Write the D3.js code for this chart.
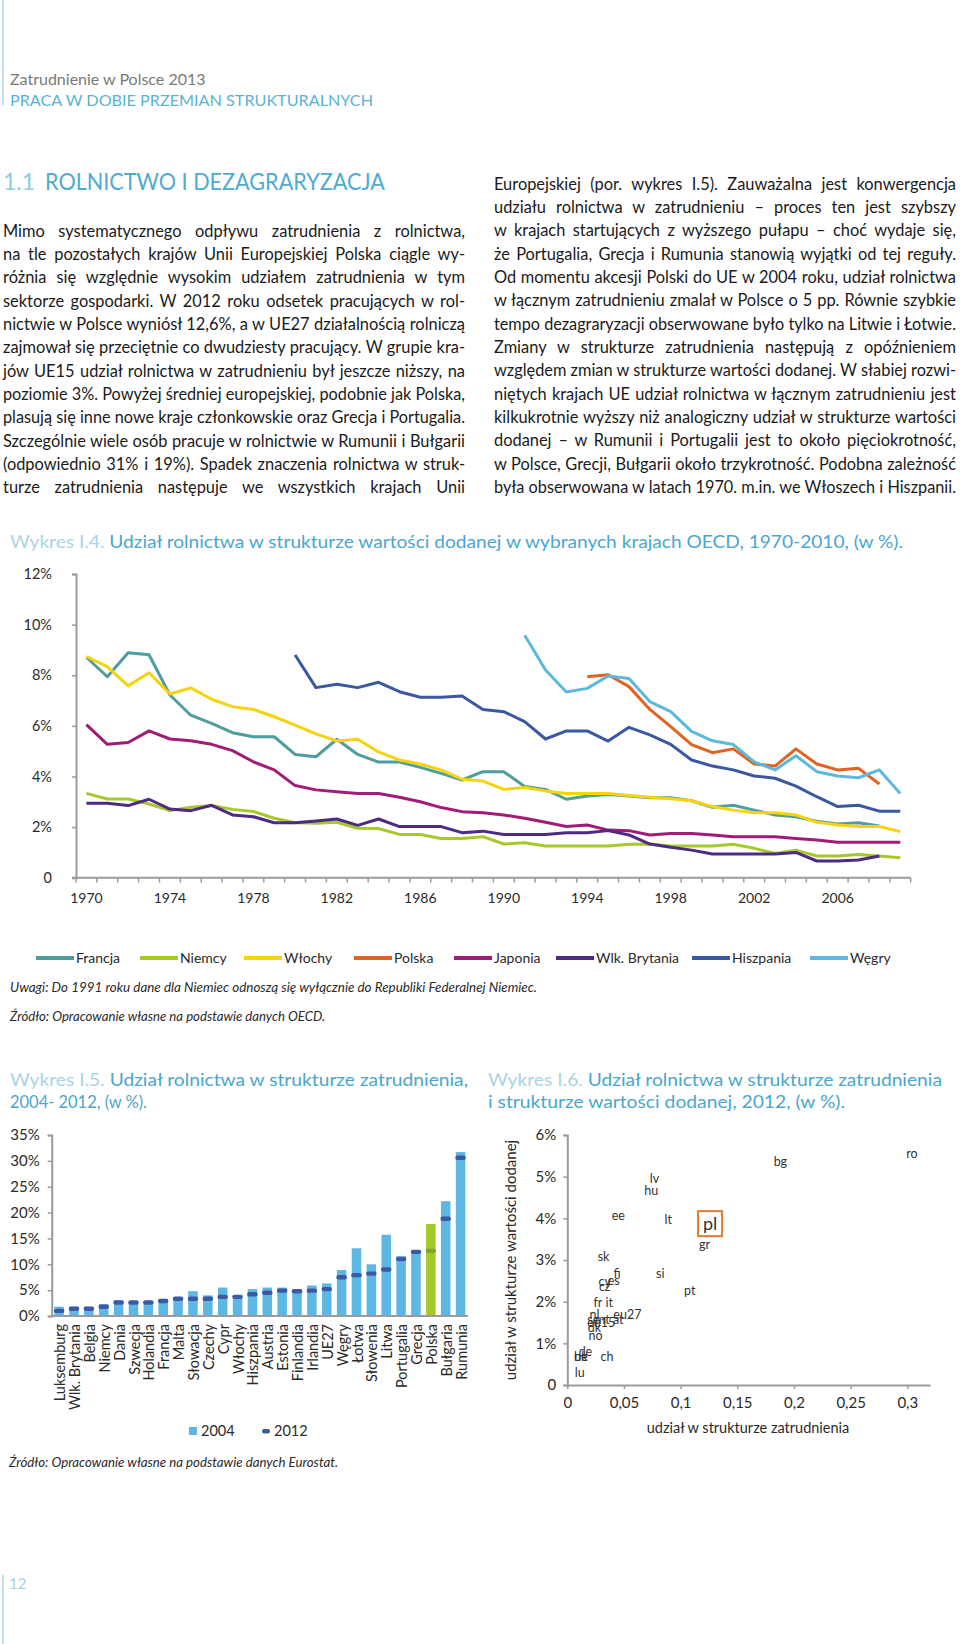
<!DOCTYPE html>
<html><head><meta charset="utf-8">
<script src="https://cdn.jsdelivr.net/npm/d3@7"></script>
<style>
body{margin:0;background:#fff}
svg{display:block}
text{font-family:Lato,'Open Sans',sans-serif}
</style>
</head><body>
<svg id="page" width="960" height="1644"></svg>
<script>
// ---------------- DATA ----------------
const years = [1970,1971,1972,1973,1974,1975,1976,1977,1978,1979,1980,1981,1982,1983,1984,1985,1986,1987,1988,1989,
               1990,1991,1992,1993,1994,1995,1996,1997,1998,1999,2000,2001,2002,2003,2004,2005,2006,2007,2008,2009];
const yearLabels = [1970,1974,1978,1982,1986,1990,1994,1998,2002,2006];
const lineTicks = [0,2,4,6,8,10,12];

const francja = [8.71,7.94,8.89,8.81,7.22,6.42,6.10,5.73,5.57,5.57,4.87,4.78,5.47,4.87,4.57,4.57,4.36,4.12,3.86,4.19,
                 4.19,3.60,3.49,3.10,3.23,3.29,3.23,3.16,3.16,3.04,2.78,2.86,2.67,2.48,2.41,2.23,2.12,2.17,2.04,null];
const niemcy = [3.33,3.11,3.11,2.91,2.65,2.78,2.85,2.70,2.62,2.35,2.17,2.15,2.19,1.95,1.94,1.71,1.71,1.55,1.55,1.62,
                1.33,1.38,1.25,1.25,1.25,1.25,1.32,1.33,1.25,1.25,1.25,1.32,1.16,0.96,1.09,0.86,0.86,0.92,0.86,0.79];
const wlochy = [8.74,8.34,7.58,8.10,7.26,7.50,7.05,6.76,6.65,6.36,6.03,5.68,5.40,5.47,4.97,4.65,4.49,4.26,3.89,3.82,
                3.49,3.56,3.43,3.33,3.33,3.33,3.25,3.18,3.12,3.04,2.81,2.67,2.57,2.57,2.48,2.19,2.08,2.02,2.02,1.82];
const polska = [null,null,null,null,null,null,null,null,null,null,null,null,null,null,null,null,null,null,null,null,
                null,null,null,null,7.94,8.02,7.55,6.65,5.97,5.26,4.94,5.09,4.49,4.41,5.09,4.49,4.26,4.32,3.70,null];
const japonia = [6.05,5.27,5.34,5.80,5.48,5.41,5.27,5.02,4.58,4.26,3.64,3.47,3.40,3.33,3.33,3.18,3.00,2.77,2.61,2.57,
                 2.48,2.35,2.19,2.02,2.08,1.88,1.86,1.69,1.75,1.75,1.69,1.62,1.62,1.62,1.55,1.49,1.40,1.40,1.40,1.40];
const wlkBrytania = [2.94,2.94,2.85,3.10,2.71,2.65,2.86,2.48,2.41,2.17,2.17,2.24,2.32,2.07,2.32,2.02,2.02,2.02,1.78,1.84,
                     1.71,1.71,1.71,1.78,1.78,1.86,1.69,1.33,1.20,1.09,0.94,0.94,0.94,0.94,1.00,0.66,0.66,0.70,0.86,null];
const hiszpania = [null,null,null,null,null,null,null,null,null,null,8.80,7.51,7.64,7.51,7.72,7.35,7.13,7.13,7.18,6.65,
                   6.56,6.17,5.48,5.80,5.80,5.40,5.94,5.64,5.27,4.65,4.41,4.26,4.02,3.93,3.62,3.20,2.81,2.86,2.63,2.63];
const wegry = [null,null,null,null,null,null,null,null,null,null,null,null,null,null,null,null,null,null,null,null,
               null,9.58,8.21,7.34,7.48,7.97,7.87,6.96,6.56,5.78,5.41,5.26,4.58,4.26,4.82,4.19,4.02,3.95,4.26,3.33];

const seriesNames = ["Francja","Niemcy","Włochy","Polska","Japonia","Wlk. Brytania","Hiszpania","Węgry"];
const seriesValues = [francja,niemcy,wlochy,polska,japonia,wlkBrytania,hiszpania,wegry];
const seriesColors = ["#4f9d9d","#a6c82a","#f6d40c","#e1631f","#a21c77","#4d2b83","#3a58a0","#5cb8df"];

const barCountries = ["Luksemburg","Wlk. Brytania","Belgia","Niemcy","Dania","Szwecja","Holandia","Francja","Malta","Słowacja",
  "Czechy","Cypr","Włochy","Hiszpania","Austria","Estonia","Finlandia","Irlandia","UE27","Węgry","Łotwa","Słowenia",
  "Litwa","Portugalia","Grecja","Polska","Bułgaria","Rumunia"];
const emp2004 = [1.8,1.8,1.8,2.3,3.0,2.8,2.9,3.3,3.6,4.8,4.0,5.5,4.0,5.2,5.5,5.5,5.1,5.9,6.3,8.9,13.1,10.0,15.7,11.6,12.6,17.8,22.2,31.7];
const emp2012 = [1.0,1.4,1.4,1.8,2.6,2.6,2.6,2.9,3.35,3.35,3.35,3.7,3.7,4.2,4.5,4.9,4.8,4.9,5.2,7.5,7.9,8.2,9.0,11.0,12.4,12.6,18.8,30.6];
const barTicks = [0,5,10,15,20,25,30,35];

const scatterLabels = ["ro","bg","lv","hu","ee","lt","pl","gr","sk","fi","si","cy","es","cz","pt","fr","it","nl","eu27","se","mt","at","eu15","dk","no","de","be","uk","ch","lu"];
const scatterX = [0.304,0.188,0.077,0.074,0.045,0.089,0.126,0.121,0.032,0.044,0.082,0.033,0.041,0.033,0.108,0.027,0.037,0.024,0.053,0.023,0.031,0.045,0.030,0.024,0.025,0.016,0.012,0.012,0.035,0.011];
const scatterY = [5.56,5.36,4.96,4.67,4.06,3.98,3.86,3.36,3.08,2.68,2.68,2.48,2.50,2.36,2.26,1.98,1.98,1.68,1.68,1.58,1.58,1.58,1.50,1.38,1.18,0.80,0.68,0.68,0.68,0.30];
const scatterXTicks = [0,0.05,0.1,0.15,0.2,0.25,0.3];
const scatterYTicks = [0,1,2,3,4,5,6];

const leftText = [
"Mimo systematycznego odpływu zatrudnienia z rolnictwa,",
"na tle pozostałych krajów Unii Europejskiej Polska ciągle wy-",
"różnia się względnie wysokim udziałem zatrudnienia w tym",
"sektorze gospodarki. W 2012 roku odsetek pracujących w rol-",
"nictwie w Polsce wyniósł 12,6%, a w UE27 działalnością rolniczą",
"zajmował się przeciętnie co dwudziesty pracujący. W grupie kra-",
"jów UE15 udział rolnictwa w zatrudnieniu był jeszcze niższy, na",
"poziomie 3%. Powyżej średniej europejskiej, podobnie jak Polska,",
"plasują się inne nowe kraje członkowskie oraz Grecja i Portugalia.",
"Szczególnie wiele osób pracuje w rolnictwie w Rumunii i Bułgarii",
"(odpowiednio 31% i 19%). Spadek znaczenia rolnictwa w struk-",
"turze zatrudnienia następuje we wszystkich krajach Unii"];
const rightText = [
"Europejskiej (por. wykres I.5). Zauważalna jest konwergencja",
"udziału rolnictwa w zatrudnieniu – proces ten jest szybszy",
"w krajach startujących z wyższego pułapu – choć wydaje się,",
"że Portugalia, Grecja i Rumunia stanowią wyjątki od tej reguły.",
"Od momentu akcesji Polski do UE w 2004 roku, udział rolnictwa",
"w łącznym zatrudnieniu zmalał w Polsce o 5 pp. Równie szybkie",
"tempo dezagraryzacji obserwowane było tylko na Litwie i Łotwie.",
"Zmiany w strukturze zatrudnienia następują z opóźnieniem",
"względem zmian w strukturze wartości dodanej. W słabiej rozwi-",
"niętych krajach UE udział rolnictwa w łącznym zatrudnieniu jest",
"kilkukrotnie wyższy niż analogiczny udział w strukturze wartości",
"dodanej – w Rumunii i Portugalii jest to około pięciokrotność,",
"w Polsce, Grecji, Bułgarii około trzykrotność. Podobna zależność",
"była obserwowana w latach 1970. m.in. we Włoszech i Hiszpanii."];

// ---------------- DRAWING ----------------
const svg = d3.select("#page");
const AX = "#9b9b9b", TXT = "#2a2a2a", LB = "#a9d3e6", MB = "#4aa6cd";

// header
svg.append("line").attr("x1",3).attr("x2",3).attr("y1",0).attr("y2",105).attr("stroke","#b5d6e4").attr("stroke-width",1.5);
svg.append("text").attr("x",10).attr("y",85).style("font-size","16px").attr("fill","#7a7a7a").text("Zatrudnienie w Polsce 2013");
svg.append("text").attr("x",10).attr("y",106).style("font-size","16px").attr("fill","#5ab3d3")
  .attr("textLength",363).attr("lengthAdjust","spacingAndGlyphs").text("PRACA W DOBIE PRZEMIAN STRUKTURALNYCH");
svg.append("text").attr("x",3).attr("y",190).style("font-size","23px").attr("fill","#8ecbe2").text("1.1");
svg.append("text").attr("x",45).attr("y",190).style("font-size","24px").attr("fill","#4fabd0")
  .attr("textLength",340).attr("lengthAdjust","spacingAndGlyphs").text("ROLNICTWO I DEZAGRARYZACJA");

// justified paragraphs: word gaps widened to fill the column, overlong lines condensed horizontally
function justify(lines, x0, y0, lh, width, fs) {
  const g = svg.append("g").attr("fill", "#1a1a1a");
  lines.forEach((ln, i) => {
    const words = ln.split(" ");
    const t = g.append("text").attr("x", x0).attr("y", y0 + i * lh).style("font-size", fs + "px");
    const spans = words.map((w, j) => t.append("tspan").text(w + (j < words.length - 1 ? " " : "")));
    const widths = spans.map(s => s.node().getComputedTextLength());
    const total = d3.sum(widths);
    if (total > width) {
      t.attr("textLength", width).attr("lengthAdjust", "spacingAndGlyphs");
      return;
    }
    const extra = words.length > 1 ? (width - total) / (words.length - 1) : 0;
    let x = x0;
    spans.forEach((s, j) => { s.attr("x", x); x += widths[j] + extra; });
  });
}
justify(leftText, 3, 236.5, 23.35, 462, 16.4);
justify(rightText, 494, 189.5, 23.35, 462, 16.4);

// titles
function title(x, y, a, b, len) {
  const t = svg.append("text").attr("x", x).attr("y", y).style("font-size", "17px");
  if (a) t.append("tspan").attr("fill", LB).text(a);
  t.append("tspan").attr("fill", MB).text(b);
  if (len) t.attr("textLength", len).attr("lengthAdjust", "spacingAndGlyphs");
}
title(10, 548, "Wykres I.4. ", "Udział rolnictwa w strukturze wartości dodanej w wybranych krajach OECD, 1970-2010, (w %).", 893);
title(10, 1086, "Wykres I.5. ", "Udział rolnictwa w strukturze zatrudnienia,", 458);
title(10, 1108, null, "2004- 2012, (w %).", 137);
title(488, 1086, "Wykres I.6. ", "Udział rolnictwa w strukturze zatrudnienia", 454);
title(488, 1108, null, "i strukturze wartości dodanej, 2012, (w %).", 357);

function styleAxis(g) {
  g.selectAll("path.domain").attr("stroke", AX).attr("stroke-width", 2);
  g.selectAll(".tick line").attr("stroke", AX).attr("stroke-width", 1.5);
  g.selectAll(".tick text").attr("fill", TXT).style("font-size", "14px").style("font-family", "Lato, sans-serif");
}

// ---- line chart ----
const lx = d3.scaleBand().domain(years).range([76, 910.7]);
const ly = d3.scaleLinear().domain([0, 12]).range([877.7, 574]);
const gYL = svg.append("g").attr("transform", "translate(76,0)")
  .call(d3.axisLeft(ly).tickValues(lineTicks).tickSize(4).tickPadding(20).tickFormat(d => d === 0 ? "0" : d + "%"));
styleAxis(gYL);
gYL.selectAll(".tick text").style("font-size", "14.5px");
const gXL = svg.append("g").attr("transform", "translate(0,877.7)")
  .call(d3.axisBottom(lx).tickValues(yearLabels).tickSize(0).tickPadding(15).tickSizeOuter(0));
styleAxis(gXL);
gXL.select("path.domain").attr("d", "M72,0H910.7");
svg.append("g").selectAll("line").data(years.concat(["end"])).join("line")
  .attr("x1", d => d === "end" ? 910.7 : lx(d)).attr("x2", d => d === "end" ? 910.7 : lx(d))
  .attr("y1", 877.7).attr("y2", 882.5).attr("stroke", AX).attr("stroke-width", 1.5);

const lineGen = d3.line().defined(d => d.v != null)
  .x(d => lx(d.y) + lx.bandwidth() / 2).y(d => ly(d.v));
svg.append("g").selectAll("path").data(seriesValues).join("path")
  .attr("d", vals => lineGen(vals.map((v, i) => ({ y: years[i], v }))))
  .attr("fill", "none").attr("stroke", (d, i) => seriesColors[i]).attr("stroke-width", 3)
  .attr("stroke-linejoin", "round");

// legend
const legX = [36, 140, 244, 354, 454, 556, 692, 810];
const lg = svg.append("g");
seriesNames.forEach((n, i) => {
  lg.append("line").attr("x1", legX[i]).attr("x2", legX[i] + 38).attr("y1", 958).attr("y2", 958)
    .attr("stroke", seriesColors[i]).attr("stroke-width", 4);
  lg.append("text").attr("x", legX[i] + 40).attr("y", 963).style("font-size", "14px").attr("fill", TXT).text(n);
});

function note(x, y, s, len, fs) {
  svg.append("text").attr("x", x).attr("y", y).style("font-size", (fs || 12.5) + "px").style("font-style", "italic")
    .attr("fill", TXT).attr("textLength", len).attr("lengthAdjust", "spacingAndGlyphs").text(s);
}
note(10, 992, "Uwagi: Do 1991 roku dane dla Niemiec odnoszą się wyłącznie do Republiki Federalnej Niemiec.", 527);
note(10, 1021, "Źródło: Opracowanie własne na podstawie danych OECD.", 315);

// ---- bar chart ----
const bx = d3.scaleBand().domain(barCountries).range([51.7, 468]).paddingInner(0.36).paddingOuter(0.18);
const by = d3.scaleLinear().domain([0, 35]).range([1316, 1135]);
const gYB = svg.append("g").attr("transform", "translate(51.7,0)")
  .call(d3.axisLeft(by).tickValues(barTicks).tickSize(4).tickPadding(8).tickFormat(d => d + "%"));
styleAxis(gYB);
gYB.selectAll(".tick text").style("font-size", "15px");
svg.append("g").selectAll("rect").data(barCountries).join("rect")
  .attr("x", d => bx(d)).attr("width", bx.bandwidth())
  .attr("y", (d, i) => by(emp2004[i])).attr("height", (d, i) => by(0) - by(emp2004[i]))
  .attr("fill", d => d === "Polska" ? "#a6c82a" : "#5cb8e2");
svg.append("g").selectAll("rect").data(barCountries).join("rect")
  .attr("x", d => bx(d) - 0.5).attr("width", bx.bandwidth() + 1)
  .attr("y", (d, i) => by(emp2012[i]) - 2.2).attr("height", 4.4).attr("rx", 2.2)
  .attr("fill", d => d === "Polska" ? "#7ea62c" : "#3b5aa3");
const gXB = svg.append("g").attr("transform", "translate(0,1316)")
  .call(d3.axisBottom(bx).tickSize(0).tickSizeOuter(0).tickFormat(""));
styleAxis(gXB);
gXB.select("path.domain").attr("d", "M51.7,0H468");
svg.append("g").selectAll("text").data(barCountries).join("text")
  .attr("transform", d => `translate(${bx(d) + bx.bandwidth() / 2 + 1},1324) rotate(-90)`)
  .attr("text-anchor", "end").attr("dy", "0.35em").style("font-size", "14.5px").attr("fill", TXT).text(d => d);

// bar legend
svg.append("rect").attr("x", 189).attr("y", 1427).attr("width", 8).attr("height", 8).attr("fill", "#5cb8e2");
svg.append("text").attr("x", 201).attr("y", 1436).style("font-size", "14.5px").attr("fill", TXT).text("2004");
svg.append("rect").attr("x", 262).attr("y", 1429).attr("width", 8).attr("height", 4.4).attr("rx", 2.2).attr("fill", "#3b5aa3");
svg.append("text").attr("x", 274).attr("y", 1436).style("font-size", "14.5px").attr("fill", TXT).text("2012");
note(9, 1467, "Źródło: Opracowanie własne na podstawie danych Eurostat.", 329, 13);

// ---- scatter ----
const sx = d3.scaleLinear().domain([0, 0.32]).range([567.3, 930]);
const sy = d3.scaleLinear().domain([0, 6]).range([1385, 1135]);
const gYS = svg.append("g").attr("transform", "translate(567.3,0)")
  .call(d3.axisLeft(sy).tickValues(scatterYTicks).tickSize(4).tickPadding(7).tickFormat(d => d === 0 ? "0" : d + "%"));
styleAxis(gYS);
gYS.selectAll(".tick text").style("font-size", "15px");
const gXS = svg.append("g").attr("transform", "translate(0,1385)")
  .call(d3.axisBottom(sx).tickValues(scatterXTicks).tickSize(4).tickPadding(8).tickSizeOuter(0)
    .tickFormat(d => d === 0 ? "0" : String(d).replace(".", ",")));
styleAxis(gXS);
gXS.selectAll(".tick text").style("font-size", "15px");
svg.append("text").attr("transform", "translate(516,1260) rotate(-90)").attr("text-anchor", "middle")
  .style("font-size", "15px").attr("fill", TXT).text("udział w strukturze wartości dodanej");
svg.append("text").attr("x", 748).attr("y", 1433).attr("text-anchor", "middle")
  .style("font-size", "14.5px").attr("fill", TXT).text("udział w strukturze zatrudnienia");
svg.append("g").selectAll("text").data(scatterLabels).join("text")
  .attr("x", (d, i) => sx(scatterX[i])).attr("y", (d, i) => sy(scatterY[i]))
  .attr("text-anchor", "middle").attr("dy", "0.35em")
  .style("font-size", d => d === "pl" ? "18px" : "12.5px").attr("fill", "#333").text(d => d);
const pi = scatterLabels.indexOf("pl");
svg.append("rect").attr("x", sx(scatterX[pi]) - 12).attr("y", sy(scatterY[pi]) - 13)
  .attr("width", 24).attr("height", 25).attr("fill", "none").attr("stroke", "#e07a2e").attr("stroke-width", 2);

// page number
svg.append("line").attr("x1", 3).attr("x2", 3).attr("y1", 1575).attr("y2", 1644).attr("stroke", "#b5d6e4").attr("stroke-width", 1.5);
svg.append("text").attr("x", 9).attr("y", 1589).style("font-size", "15px").attr("fill", LB).text("12");
</script>
</body></html>
